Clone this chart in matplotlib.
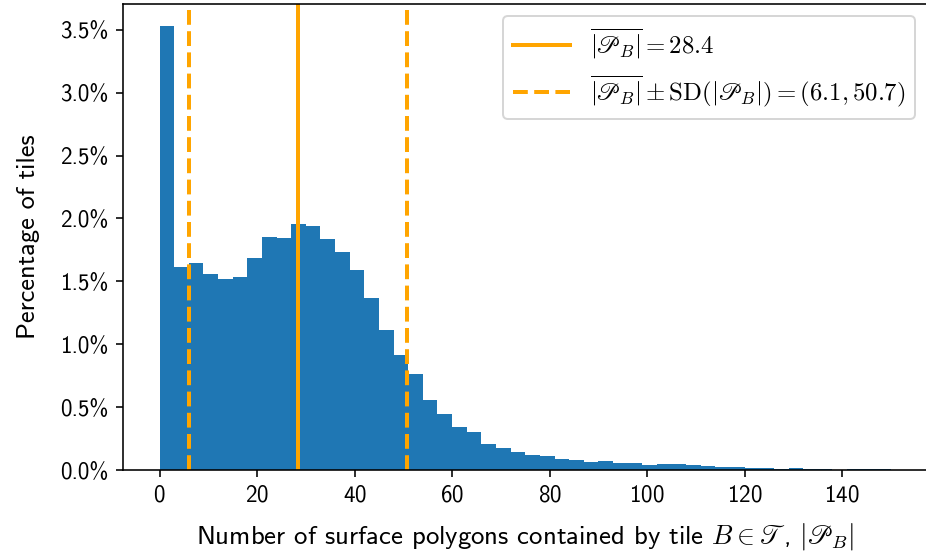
import numpy as np
import matplotlib.pyplot as plt
from matplotlib.ticker import PercentFormatter

plt.rcParams['font.family'] = ['cmss10', 'DejaVu Sans']
plt.rcParams['mathtext.fontset'] = 'cm'
plt.rcParams['axes.formatter.use_mathtext'] = True
plt.rcParams['font.size'] = 11.5

# histogram: bins of width 3 from 0 to 150, share of tiles in percent
bin_width = 3
bin_left = np.arange(0, 150, bin_width)
pct_tiles = [3.528, 1.612, 1.644, 1.557, 1.517, 1.533, 1.684, 1.851, 1.843, 1.954,
             1.938, 1.835, 1.732, 1.589, 1.366, 1.112, 0.913, 0.762, 0.556, 0.445,
             0.342, 0.302, 0.207, 0.175, 0.143, 0.119, 0.111, 0.087, 0.079, 0.064,
             0.071, 0.056, 0.056, 0.040, 0.048, 0.048, 0.040, 0.032, 0.024, 0.024,
             0.016, 0.016, 0.008, 0.016, 0.008, 0.008, 0.003, 0.008, 0.008, 0.008]

mean_val = 28.4
sd_low, sd_high = 6.1, 50.7

fig = plt.figure(figsize=(926 / 144, 558 / 144), dpi=144)
ax = fig.add_axes([123 / 926, 88 / 558, 804.5 / 926, 466 / 558])

ax.bar(bin_left, pct_tiles, width=bin_width, align='edge', color='#1f77b4')
ax.axvline(mean_val, color='orange', lw=2,
           label=r'$\overline{|\mathscr{P}_B|} = 28.4$')
ax.axvline(sd_low, color='orange', lw=2, ls='--',
           label=r'$\overline{|\mathscr{P}_B|} \pm \mathrm{SD}(|\mathscr{P}_B|) = (6.1, 50.7)$')
ax.axvline(sd_high, color='orange', lw=2, ls='--')

ax.set_xlim(-7.5, 157.5)
ax.set_ylim(0, max(pct_tiles) * 1.05)
ax.set_xticks(np.arange(0, 141, 20))
ax.yaxis.set_major_formatter(PercentFormatter(xmax=100, decimals=1))
ax.set_xlabel(r'Number of surface polygons contained by tile $B \in \mathscr{T}$, $|\mathscr{P}_B|$',
              fontsize=13.4, labelpad=7.5)
ax.set_ylabel('Percentage of tiles', fontsize=13.2, labelpad=10)
ax.legend(loc='upper right', fontsize=12.4, handlelength=2.3)

fig.savefig('out.png', dpi=144)
